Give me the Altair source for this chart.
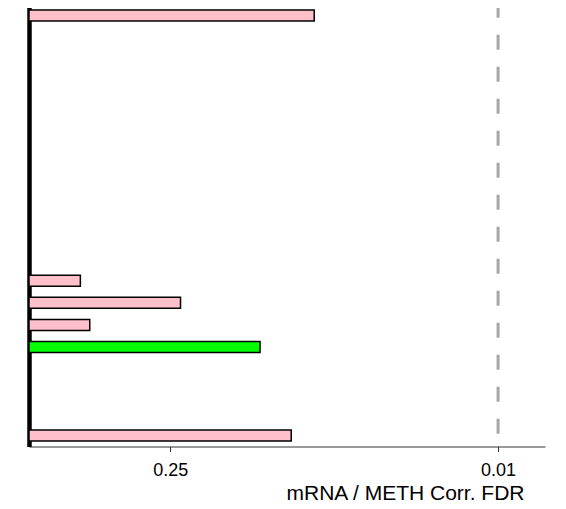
import altair as alt
import pandas as pd

# Row index (0 = top) of each bar, its -log10(FDR) score and its fill
rows = [0, 12, 13, 14, 15, 19]
scores = [1.216, 0.219, 0.646, 0.259, 0.985, 1.118]
fills = ["pink", "pink", "pink", "pink", "lime", "pink"]

# x-axis ticks: FDR labels placed at -log10(FDR)
tick_values = [0.60206, 2.0]
tick_labels = ["0.25", "0.01"]
threshold = [2.0]
row_extent = [-0.54, 19.5]

df = pd.DataFrame({"row": rows, "score": scores, "fill": fills})
thr = pd.DataFrame({"t": threshold, "top": [row_extent[0]], "bottom": [row_extent[1]]})

label_expr = "datum.value < 1 ? '{}' : '{}'".format(tick_labels[0], tick_labels[1])

x_scale = alt.Scale(domain=[0, 2.2], nice=False, zero=True, padding=0)
y_scale = alt.Scale(domain=row_extent, nice=False, zero=False, reverse=True, padding=0)

bars = alt.Chart(df).mark_bar(
    size=11, stroke="black", strokeWidth=1.5, orient="horizontal"
).encode(
    x=alt.X(
        "score:Q",
        scale=x_scale,
        axis=alt.Axis(
            values=tick_values,
            labelExpr=label_expr,
            grid=False,
            domainColor="#333333",
            domainWidth=1,
            tickColor="#333333",
            tickSize=5,
            labelFont="Liberation Sans",
            labelFontSize=18,
            labelColor="black",
            labelPadding=9.5,
            title="mRNA / METH Corr. FDR",
            titleFont="Liberation Sans",
            titleFontSize=21,
            titleFontWeight="normal",
            titleColor="black",
            titleAlign="right",
            titleAnchor="end",
            titleBaseline="alphabetic",
            titleX=495,
            titleY=53,
        ),
    ),
    x2=alt.datum(0),
    y=alt.Y(
        "row:Q",
        scale=y_scale,
        axis=alt.Axis(
            title=None,
            labels=False,
            ticks=False,
            grid=False,
            domainColor="black",
            domainWidth=4.5,
        ),
    ),
    fill=alt.Fill("fill:N", scale=None),
)

rule = alt.Chart(thr).mark_rule(
    color="#A6A6A6", strokeWidth=3, strokeDash=[15, 17], strokeDashOffset=0.8
).encode(
    x=alt.X("t:Q", scale=x_scale),
    y=alt.Y("top:Q", scale=y_scale),
    y2="bottom:Q",
)

chart = alt.layer(rule, bars).properties(
    width=516,
    height=443,
    autosize=alt.AutoSizeParams(type="none"),
    padding={"left": 21, "top": -4.5, "right": 5, "bottom": 57},
).configure_view(stroke=None)

chart.save("out.html", embed_options={"renderer": "svg", "actions": False})
